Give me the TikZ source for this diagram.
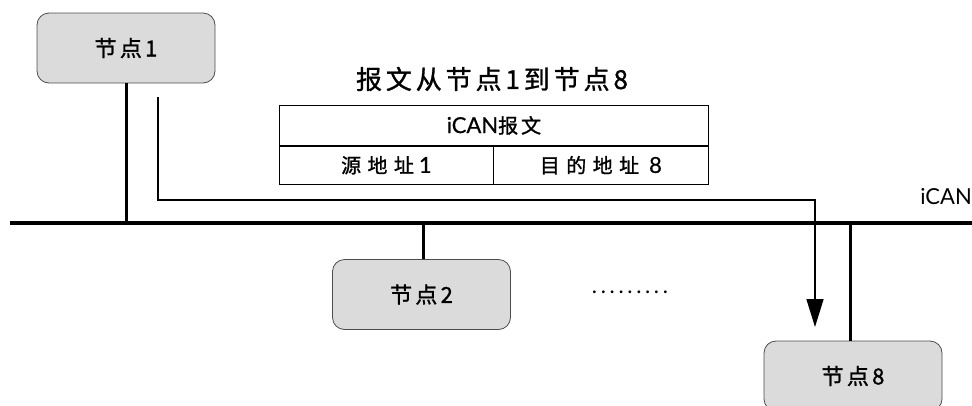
\documentclass[tikz,border=0pt]{standalone}
\usepackage{fontspec}
\setmainfont{Lato}
\newfontfamily\cjk[FakeBold=1.2,LetterSpace=15]{Noto Sans CJK SC}
\newfontfamily\cjkw[FakeBold=1.2,LetterSpace=32]{Noto Sans CJK SC}
\newfontfamily\latb[FakeBold=0.6]{Lato}
\usetikzlibrary{arrows.meta}
\begin{document}
\begin{tikzpicture}[x=1pt,y=-1pt,
  nodebox/.style={draw=black!70,line width=0.8pt,rounded corners=12pt,fill=black!14,minimum width=178pt,minimum height=70pt,font=\cjk\fontsize{22}{22}\selectfont},
  bus/.style={line width=3.5pt},
  stem/.style={line width=3pt},
  msg/.style={line width=1.6pt},
  cell/.style={draw,line width=0.8pt,inner sep=0pt,font=\latb\fontsize{22}{22}\selectfont}]
\useasboundingbox (0,0) rectangle (972,405);
\begin{scope}
\clip (0,0) rectangle (972,405);
\node[nodebox] (n1) at (126,48) {节点1};
\node[nodebox] (n2) at (421.5,294.5) {节点2};
\node[nodebox] (n8) at (853,376) {节点8};
\end{scope}
\coordinate (bl) at (10,223);
\coordinate (br) at (972,223);
\draw[bus] (bl) -- (br);
\node[anchor=east,font=\fontsize{22}{22}\selectfont,inner sep=0pt] (ican) at (972,197) {iCAN};
\coordinate (b1) at (n1.south |- bl);
\coordinate (b2) at (423,223);
\coordinate (b8) at (850,223);
\draw[stem] (n1.south) -- (b1);
\draw[stem] (b2) -- (b2 |- n2.north);
\draw[stem] (b8) -- (b8 |- n8.north);
% message table
\node[cell,minimum width=429pt,minimum height=40pt,anchor=north west] (hdr) at (279,105) {iCAN{\cjk\fontsize{20}{20}\selectfont 报文}};
\node[cell,minimum width=214pt,minimum height=38pt,anchor=north west] (src) at (hdr.south west) {{\cjkw\fontsize{20}{20}\selectfont 源地址}\hspace{5pt}1};
\node[cell,minimum width=215pt,minimum height=38pt,anchor=north east] (dst) at (hdr.south east) {{\cjkw\fontsize{20}{20}\selectfont 目的地址}\hspace{10pt}8};
\node[font=\cjk\fontsize{26}{26}\selectfont] (title) at (492,79) {报文从节点1到节点8};
% message path
\coordinate (m0) at (158,97);
\coordinate (m1) at (158,200);
\coordinate (m2) at (815,200);
\coordinate (m3) at (815,327);
\draw[msg,-{Triangle[length=28pt,width=17pt]}] (m0) -- (m1) -- (m2) -- (m3);
\node[font=\fontsize{22}{22}\selectfont] (dots) at (630,292) {.\,.\,.\,.\,.\,.\,.\,.\,.};
\end{tikzpicture}
\end{document}
